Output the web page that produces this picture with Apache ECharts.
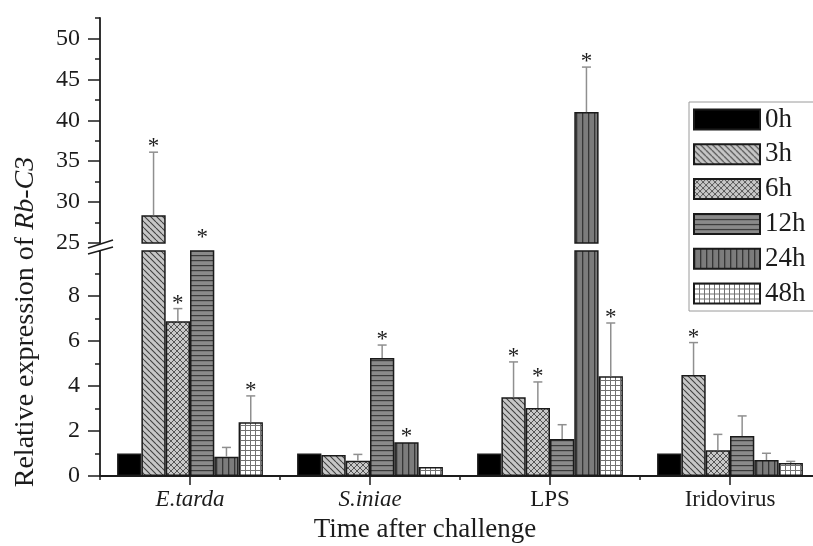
<!DOCTYPE html>
<html>
<head>
<meta charset="utf-8">
<script src="https://cdn.jsdelivr.net/npm/echarts@6/dist/echarts.min.js"></script>
<style>
  html, body { margin: 0; padding: 0; background: #fff; }
  #chart { width: 813px; height: 546px; }
</style>
</head>
<body>
<div id="chart"></div>
<script>
// Pathogens / stimulants on the x axis
const categories = ['E.tarda', 'S.iniae', 'LPS', 'Iridovirus'];
const italicCategories = ['E.tarda', 'S.iniae'];
const timePoints = ['0h', '3h', '6h', '12h', '24h', '48h'];

// Mean relative expression per time point (order follows categories)
const expr0h  = [1.00, 1.00, 1.00, 1.00];
const expr3h  = [28.4, 0.93, 3.50, 4.49];
const expr6h  = [6.88, 0.68, 3.02, 1.14];
const expr12h = [24.0, 5.24, 1.64, 1.78];
const expr24h = [0.86, 1.50, 41.0, 0.71];
const expr48h = [2.39, 0.40, 4.43, 0.58];

// Standard deviations (upper error bars)
const sd0h  = [0, 0, 0, 0];
const sd3h  = [7.7, 0, 1.57, 1.44];
const sd6h  = [0.56, 0.28, 1.16, 0.71];
const sd12h = [0, 0.58, 0.64, 0.89];
const sd24h = [0.41, 0, 5.5, 0.30];
const sd48h = [1.17, 0, 2.37, 0.07];

// Significance markers (1 = asterisk)
const sig0h  = [0, 0, 0, 0];
const sig3h  = [1, 0, 1, 1];
const sig6h  = [1, 0, 1, 0];
const sig12h = [1, 1, 0, 0];
const sig24h = [0, 1, 1, 0];
const sig48h = [1, 0, 1, 0];

// Broken y axis: lower segment and upper segment
const lowerTicks = [0, 2, 4, 6, 8];
const lowerMax = 10;
const upperTicks = [25, 30, 35, 40, 45, 50];
const upperMax = 52.5;

const means = [expr0h, expr3h, expr6h, expr12h, expr24h, expr48h];
const sds = [sd0h, sd3h, sd6h, sd12h, sd24h, sd48h];
const sigs = [sig0h, sig3h, sig6h, sig12h, sig24h, sig48h];

const upperMin = upperTicks[0];
const FONT = '"Liberation Serif", "Times New Roman", serif';
const INK = '#1c1c1c';
const CAT_GAP = 0.19;

// ---- hatch fills ----
function hatch(size, bg, draw) {
  const c = document.createElement('canvas');
  c.width = size; c.height = size;
  const ctx = c.getContext('2d');
  ctx.fillStyle = bg;
  ctx.fillRect(0, 0, size, size);
  draw(ctx, size);
  return { image: c, repeat: 'repeat' };
}
function diag(ctx, s, dir) {
  ctx.beginPath();
  for (let o = -s; o <= s; o += s) {
    if (dir > 0) { ctx.moveTo(o, 0); ctx.lineTo(o + s, s); }
    else { ctx.moveTo(o + s, 0); ctx.lineTo(o, s); }
  }
  ctx.stroke();
}
const fills = [
  '#000000',
  hatch(6, '#c6c6c6', (ctx, s) => { ctx.strokeStyle = '#404040'; ctx.lineWidth = 1.1; diag(ctx, s, 1); }),
  hatch(6, '#c8c8c8', (ctx, s) => { ctx.strokeStyle = '#555555'; ctx.lineWidth = 1; diag(ctx, s, 1); diag(ctx, s, -1); }),
  hatch(5, '#8a8a8a', (ctx, s) => { ctx.fillStyle = '#3a3a3a'; ctx.fillRect(0, 0, s, 1.2); }),
  hatch(6, '#7c7c7c', (ctx, s) => { ctx.fillStyle = '#363636'; ctx.fillRect(0, 0, 1.3, s); }),
  hatch(5, '#ffffff', (ctx, s) => { ctx.fillStyle = '#737373'; ctx.fillRect(0, 0, s, 1); ctx.fillRect(0, 0, 1, s); })
];

// ---- layout of the two plot segments ----
const plotLeft = 100, plotWidth = 720;
const upperTop = 18, upperBottom = 243;
const lowerTop = 251, lowerBottom = 476;
const upperPx = (upperBottom - upperTop) / (upperMax - upperMin);
const majorTop = upperTop + (upperMax - upperTicks[upperTicks.length - 1]) * upperPx;

// ---- error bars and asterisks ----
function barX(api, cat, k) {
  const band = api.size([1, 0])[0];
  const barW = band * (1 - CAT_GAP) / timePoints.length;
  return api.coord([cat, 0])[0] + (k - (timePoints.length - 1) / 2) * barW;
}
function errorBarItem(params, api) {
  const cat = api.value(0), k = api.value(1), v = api.value(2), sd = api.value(3);
  const x = barX(api, cat, k);
  const y0 = api.coord([cat, v])[1];
  const y1 = api.coord([cat, v + sd])[1];
  const style = { stroke: '#8f8f8f', lineWidth: 1.5 };
  return {
    type: 'group',
    children: [
      { type: 'line', shape: { x1: x, y1: y0, x2: x, y2: y1 }, style },
      { type: 'line', shape: { x1: x - 4.5, y1: y1, x2: x + 4.5, y2: y1 }, style }
    ]
  };
}
function starItem(params, api) {
  const cat = api.value(0), k = api.value(1), anchor = api.value(2);
  const x = barX(api, cat, k);
  const y = api.coord([cat, anchor])[1];
  return {
    type: 'text',
    x: x, y: y - 5,
    style: {
      text: '*', font: '23px ' + FONT, fill: INK,
      align: 'center', verticalAlign: 'middle',
      textAlign: 'center', textVerticalAlign: 'middle'
    }
  };
}

const errLower = [], errUpper = [], starLower = [], starUpper = [];
means.forEach((row, k) => row.forEach((v, c) => {
  const sd = sds[k][c];
  if (sd > 0) {
    if (v <= lowerMax) errLower.push([c, k, v, sd]);
    if (v >= upperMin) errUpper.push([c, k, v, sd]);
  }
  if (sigs[k][c]) {
    const anchor = v + sd;
    if (anchor <= lowerMax) starLower.push([c, k, anchor]);
    else starUpper.push([c, k, Math.max(anchor, upperMin)]);
  }
}));

const barSeries = [];
timePoints.forEach((t, k) => {
  const base = {
    name: t, type: 'bar', barGap: '0%', barCategoryGap: (CAT_GAP * 100) + '%',
    itemStyle: { color: fills[k], borderColor: '#1a1a1a', borderWidth: 1.5 },
    emphasis: { disabled: true }, silent: true, clip: true
  };
  barSeries.push(Object.assign({}, base, { xAxisIndex: 0, yAxisIndex: 0, data: means[k] }));
  barSeries.push(Object.assign({}, base, {
    xAxisIndex: 2, yAxisIndex: 1,
    data: means[k].map(v => (v > upperMin ? v : '-'))
  }));
});

const axisLineStyle = { color: INK, width: 1.8 };
const labelFmt = name => (italicCategories.includes(name) ? '{i|' + name + '}' : '{n|' + name + '}');

const chart = echarts.init(document.getElementById('chart'), null, { renderer: 'canvas' });
chart.setOption({
  animation: false,
  backgroundColor: '#fff',
  grid: [
    { left: plotLeft, width: plotWidth, top: lowerTop, height: lowerBottom - lowerTop, containLabel: false, outerBoundsMode: 'none' },
    { left: plotLeft, width: plotWidth, top: upperTop, height: upperBottom - upperTop, containLabel: false, outerBoundsMode: 'none' },
    { left: plotLeft, width: plotWidth, top: majorTop, height: upperBottom - majorTop, containLabel: false, outerBoundsMode: 'none' }
  ],
  xAxis: [
    {
      gridIndex: 0, type: 'category', data: categories, position: 'bottom',
      axisLine: { show: true, lineStyle: axisLineStyle },
      axisTick: { show: true, alignWithLabel: true, length: 9, lineStyle: { color: INK, width: 1.5 } },
      axisLabel: {
        show: true, margin: 12, formatter: labelFmt,
        rich: {
          i: { fontFamily: FONT, fontSize: 23, fontStyle: 'italic', color: INK },
          n: { fontFamily: FONT, fontSize: 23, color: INK }
        }
      },
      splitLine: { show: false }
    },
    {
      gridIndex: 0, type: 'category', data: categories, position: 'bottom', offset: 0,
      axisLine: { show: false },
      axisTick: { show: true, length: 4, lineStyle: { color: INK, width: 1.5 } },
      axisLabel: { show: false }, splitLine: { show: false }
    },
    { gridIndex: 1, type: 'category', data: categories, show: false },
    { gridIndex: 2, type: 'category', data: categories, show: false }
  ],
  yAxis: [
    {
      gridIndex: 0, type: 'value', min: 0, max: lowerMax, interval: lowerTicks[1] - lowerTicks[0],
      axisLine: { show: true, lineStyle: axisLineStyle },
      axisTick: { show: true, length: 12, lineStyle: { color: INK, width: 1.5 } },
      minorTick: { show: true, splitNumber: 2, length: 5, lineStyle: { color: INK, width: 1.5 } },
      axisLabel: {
        margin: 20, fontFamily: FONT, fontSize: 24, color: INK,
        formatter: v => (lowerTicks.includes(v) ? String(v) : '')
      },
      splitLine: { show: false }, minorSplitLine: { show: false }
    },
    {
      gridIndex: 1, type: 'value', min: upperMin, max: upperMax, interval: (upperTicks[1] - upperTicks[0]) / 2,
      axisLine: { show: true, lineStyle: axisLineStyle },
      axisTick: { show: true, length: 5, lineStyle: { color: INK, width: 1.5 } },
      axisLabel: { show: false },
      splitLine: { show: false }
    },
    {
      gridIndex: 2, type: 'value', min: upperMin, max: upperTicks[upperTicks.length - 1],
      interval: upperTicks[1] - upperTicks[0],
      axisLine: { show: false },
      axisTick: { show: true, length: 12, lineStyle: { color: INK, width: 1.5 } },
      axisLabel: { margin: 20, fontFamily: FONT, fontSize: 24, color: INK },
      splitLine: { show: false }
    }
  ],
  legend: {
    data: timePoints, orient: 'vertical', left: 689, top: 102,
    icon: 'rect', itemWidth: 66, itemHeight: 20, itemGap: 7.8,
    padding: [4, 9, 4, 4], borderColor: '#9a9a9a', borderWidth: 1, backgroundColor: '#fff',
    selectedMode: false,
    textStyle: { fontFamily: FONT, fontSize: 27, color: INK, lineHeight: 20 }
  },
  series: barSeries.concat([
    { name: 'sd-lower', type: 'custom', xAxisIndex: 0, yAxisIndex: 0, clip: true, z: 5,
      renderItem: errorBarItem, data: errLower, encode: { x: 0, y: 2 }, silent: true },
    { name: 'sd-upper', type: 'custom', xAxisIndex: 2, yAxisIndex: 1, clip: true, z: 5,
      renderItem: errorBarItem, data: errUpper, encode: { x: 0, y: 2 }, silent: true },
    { name: 'sig-lower', type: 'custom', xAxisIndex: 0, yAxisIndex: 0, z: 6,
      renderItem: starItem, data: starLower, encode: { x: 0, y: 2 }, silent: true },
    { name: 'sig-upper', type: 'custom', xAxisIndex: 2, yAxisIndex: 1, z: 6,
      renderItem: starItem, data: starUpper, encode: { x: 0, y: 2 }, silent: true }
  ])
});

// Axis titles and the double-slash break on the y axis
const c0 = chart.convertToPixel({ xAxisIndex: 0 }, categories[0]);
const c1 = chart.convertToPixel({ xAxisIndex: 0 }, categories[1]);
const axisX = c0 - (c1 - c0) / 2;
const yBreakLow = chart.convertToPixel({ yAxisIndex: 0 }, lowerMax);
const yBreakHigh = chart.convertToPixel({ yAxisIndex: 1 }, upperMin);
const slash = { stroke: INK, lineWidth: 1.6 };

chart.setOption({
  graphic: [
    {
      type: 'polygon', z: 100,
      shape: { points: [[axisX - 12, yBreakHigh + 5], [axisX + 13, yBreakHigh - 3], [axisX + 13, yBreakLow - 4], [axisX - 12, yBreakLow + 3]] },
      style: { fill: '#fff' }
    },
    { type: 'line', z: 101, shape: { x1: axisX - 12, y1: yBreakHigh + 5, x2: axisX + 13, y2: yBreakHigh - 3 }, style: slash },
    { type: 'line', z: 101, shape: { x1: axisX - 12, y1: yBreakLow + 3, x2: axisX + 13, y2: yBreakLow - 4 }, style: slash },
    {
      type: 'text', x: 26, y: 322, rotation: Math.PI / 2, z: 100,
      style: {
        text: '{n|Relative expression of }{i|Rb-C3}',
        align: 'center', verticalAlign: 'middle',
        rich: {
          n: { fontFamily: FONT, fontSize: 28, fill: INK, color: INK },
          i: { fontFamily: FONT, fontSize: 28, fontStyle: 'italic', fill: INK, color: INK }
        }
      }
    },
    {
      type: 'text', x: 425, y: 530, z: 100,
      style: { text: 'Time after challenge', font: '27px ' + FONT, fill: INK, align: 'center', verticalAlign: 'middle' }
    }
  ]
});
</script>
</body>
</html>
